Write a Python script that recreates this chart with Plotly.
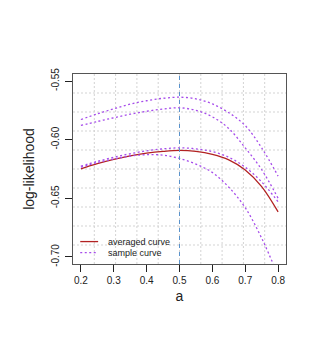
import plotly.graph_objects as go

# ---- data ----
a_vals = [0.20, 0.25, 0.30, 0.35, 0.40, 0.45, 0.50, 0.55, 0.60, 0.65, 0.70, 0.75, 0.80]
averaged = [-0.6249, -0.6205, -0.6168, -0.6138, -0.6115, -0.6100, -0.6092,
            -0.6100, -0.6125, -0.6172, -0.6258, -0.6400, -0.6616]
sample1 = [-0.5828, -0.5780, -0.5737, -0.5697, -0.5668, -0.5647, -0.5638,
           -0.5652, -0.5695, -0.5770, -0.5880, -0.6070, -0.6311]
sample2 = [-0.5879, -0.5845, -0.5813, -0.5783, -0.5758, -0.5738, -0.5728,
           -0.5750, -0.5805, -0.5905, -0.6070, -0.6255, -0.6500]
sample3 = [-0.6226, -0.6185, -0.6150, -0.6120, -0.6095, -0.6078, -0.6070,
           -0.6078, -0.6102, -0.6150, -0.6235, -0.6360, -0.6530]
sample4 = [-0.6235, -0.6195, -0.6165, -0.6140, -0.6128, -0.6132, -0.6160,
           -0.6208, -0.6280, -0.6405, -0.6580, -0.6840, -0.7160]
samples = [sample1, sample2, sample3, sample4]
x_ticks = [0.2, 0.3, 0.4, 0.5, 0.6, 0.7, 0.8]
x_tick_labels = ["0.2", "0.3", "0.4", "0.5", "0.6", "0.7", "0.8"]
y_ticks = [-0.70, -0.65, -0.60, -0.55]
y_tick_labels = ["-0.70", "-0.65", "-0.60", "-0.55"]
x_lim = [0.2, 0.8]
y_lim = [-0.70, -0.55]
vline_at = 0.5
legend_labels = ["averaged curve", "sample curve"]

RED = "#B22222"
PURPLE = "#A64CEB"
BLUE = "#5A93CC"
FONT = "Liberation Sans, Arial, sans-serif"

def ext(lim):
    d = (lim[1] - lim[0]) * 0.04
    return [lim[0] - d, lim[1] + d]

xr = ext(x_lim)
yr = ext(y_lim)

fig = go.Figure()
fig.add_trace(go.Scatter(x=a_vals, y=averaged, mode="lines", name=legend_labels[0],
                         line=dict(color=RED, width=1.3, shape="spline", smoothing=1.0),
                         showlegend=False))
for s in samples:
    fig.add_trace(go.Scatter(x=a_vals, y=s, mode="lines", name=legend_labels[1],
                             line=dict(color=PURPLE, width=1.3, dash="2px,2.5px",
                                       shape="spline", smoothing=1.0),
                             showlegend=False))

shapes = []
# grid (R grid(10,10): equal divisions of the plotting region)
for k in range(1, 10):
    gx = xr[0] + k * (xr[1] - xr[0]) / 10
    gy = yr[0] + k * (yr[1] - yr[0]) / 10
    shapes.append(dict(type="line", xref="x", yref="paper", x0=gx, x1=gx, y0=0, y1=1,
                       line=dict(color="#D3D3D3", width=1, dash="2px,2px"), layer="below"))
    shapes.append(dict(type="line", xref="paper", yref="y", x0=0, x1=1, y0=gy, y1=gy,
                       line=dict(color="#D3D3D3", width=1, dash="2px,2px"), layer="below"))
# vertical dashed line
shapes.append(dict(type="line", xref="x", yref="paper", x0=vline_at, x1=vline_at, y0=0, y1=1,
                   line=dict(color=BLUE, width=1, dash="4px,4px")))
# manual legend (R style, no box)
shapes.append(dict(type="line", xref="paper", yref="paper", x0=0.034, x1=0.118, y0=0.118, y1=0.118,
                   line=dict(color=RED, width=1.3)))
shapes.append(dict(type="line", xref="paper", yref="paper", x0=0.034, x1=0.118, y0=0.060, y1=0.060,
                   line=dict(color=PURPLE, width=1.3, dash="2px,2.5px")))

annotations = [
    dict(text=legend_labels[0], xref="paper", yref="paper", x=0.157, y=0.118,
         xanchor="left", yanchor="middle", showarrow=False,
         font=dict(family=FONT, size=9, color="#222")),
    dict(text=legend_labels[1], xref="paper", yref="paper", x=0.157, y=0.060,
         xanchor="left", yanchor="middle", showarrow=False,
         font=dict(family=FONT, size=9, color="#222")),
]

fig.update_layout(
    width=311, height=338,
    margin=dict(l=65, r=33, t=66, b=82),
    paper_bgcolor="white", plot_bgcolor="white",
    font=dict(family=FONT, size=10, color="#222"),
    shapes=shapes, annotations=annotations,
    showlegend=False,
    xaxis=dict(range=xr, tickmode="array", tickvals=x_ticks, ticktext=x_tick_labels,
               showgrid=False, zeroline=False, showline=True, mirror=True,
               linecolor="#555", linewidth=1, ticks="outside", ticklen=7,
               tickcolor="#222", tickwidth=1, tickfont=dict(size=10),
               title=dict(text="a", font=dict(size=14), standoff=6)),
    yaxis=dict(range=yr, tickmode="array", tickvals=y_ticks, ticktext=y_tick_labels,
               showgrid=False, zeroline=False, showline=True, mirror=True,
               linecolor="#555", linewidth=1, ticks="outside", ticklen=7,
               tickcolor="#222", tickwidth=1, tickangle=-90, tickfont=dict(size=10),
               ticklabelstandoff=2,
               title=dict(text="log-likelihood", font=dict(size=14), standoff=12)),
)

fig.write_html("out.html")
